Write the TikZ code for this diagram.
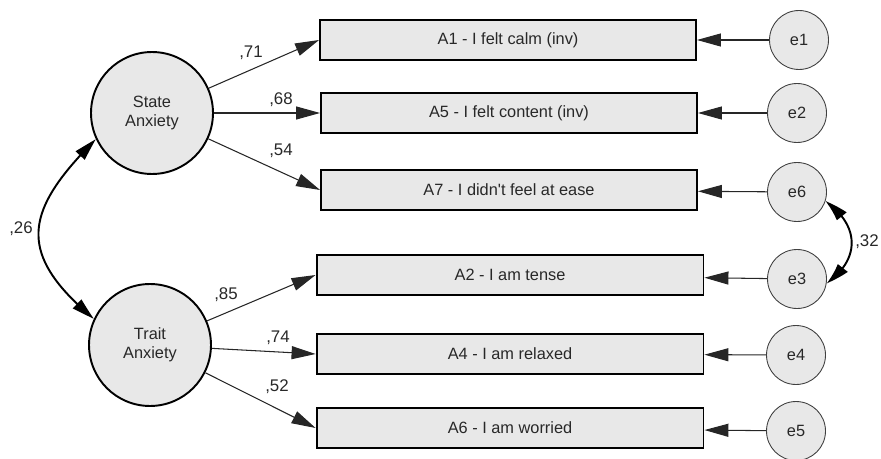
\documentclass[tikz,border=0pt]{standalone}
\usepackage{fontspec}
\setmainfont{Liberation Sans}
\usepackage{tikz}
\usetikzlibrary{arrows.meta,bending,positioning}
\definecolor{semfill}{RGB}{232,232,232}
\definecolor{semtext}{RGB}{40,40,40}

\begin{document}
\begin{tikzpicture}[
  x=0.02cm, y=-0.02cm,
  every node/.style={font=\fontsize{9.3}{11}\selectfont, text=semtext},
  latent/.style={circle, draw=black, line width=1.1pt, fill=semfill, minimum size=2.44cm, inner sep=0pt, align=center},
  item/.style={rectangle, draw=black, line width=1.1pt, fill=semfill, minimum height=0.8cm, inner sep=0pt},
  err/.style={circle, draw=black!75, line width=0.5pt, fill=semfill, minimum size=1.18cm, inner sep=0pt},
  load/.style={-{Triangle[length=0.48cm,width=0.26cm]}, line width=0.6pt, draw=black!85},
  cov/.style={{Triangle[length=0.46cm,width=0.24cm,bend]}-{Triangle[length=0.46cm,width=0.24cm,bend]}, line width=1.1pt},
  wt/.style={inner sep=0pt, font=\fontsize{9.6}{11}\selectfont}
]
  \useasboundingbox (0,0) rectangle (881,459);

  % latent factors
  \node[latent] (state) at (152,113) {State\\Anxiety};
  \node[latent] (trait) at (150,345) {Trait\\Anxiety};

  % observed items
  \node[item, minimum width=7.52cm] (a1) at (508,40)  {A1 - I felt calm (inv)};
  \node[item, minimum width=7.52cm] (a5) at (509,113) {A5 - I felt content (inv)};
  \node[item, minimum width=7.52cm] (a7) at (509,190) {A7 - I didn\textquotesingle t feel at ease};
  \node[item, minimum width=7.74cm] (a2) at (510,275) {A2 - I am tense};
  \node[item, minimum width=7.74cm] (a4) at (510,354) {A4 - I am relaxed};
  \node[item, minimum width=7.74cm] (a6) at (510,428) {A6 - I am worried};

  % error terms
  \node[err] (e1) at (799,40)  {e1};
  \node[err] (e2) at (797,113) {e2};
  \node[err] (e6) at (797,192) {e6};
  \node[err] (e3) at (797,279) {e3};
  \node[err] (e4) at (796,355) {e4};
  \node[err] (e5) at (796,431) {e5};

  % loadings
  \foreach \f/\i in {state/a1, state/a5, state/a7, trait/a2, trait/a4, trait/a6}
    \draw[load] (\f) -- (\i.west);
  \foreach \e/\i in {e1/a1, e2/a5, e6/a7, e3/a2, e4/a4, e5/a6}
    \draw[load] (\e) -- (\i);

  % covariances
  \draw[cov] (trait.155) to[out=140, in=225, looseness=1.45] (state.205);
  \draw[cov] (e6.-18) to[out=-35, in=35, looseness=1.3] (e3.-8);

  % estimates
  \node[wt] (w71) at (251,53)  {,71};
  \node[wt] (w68) at (281,100) {,68};
  \node[wt] (w54) at (281,151) {,54};
  \node[wt] (w85) at (226,295) {,85};
  \node[wt] (w74) at (278,338) {,74};
  \node[wt] (w52) at (277,387) {,52};
  \node[wt] (w26) at (21,229)  {,26};
  \node[wt] (w32) at (867,242) {,32};
\end{tikzpicture}
\end{document}
